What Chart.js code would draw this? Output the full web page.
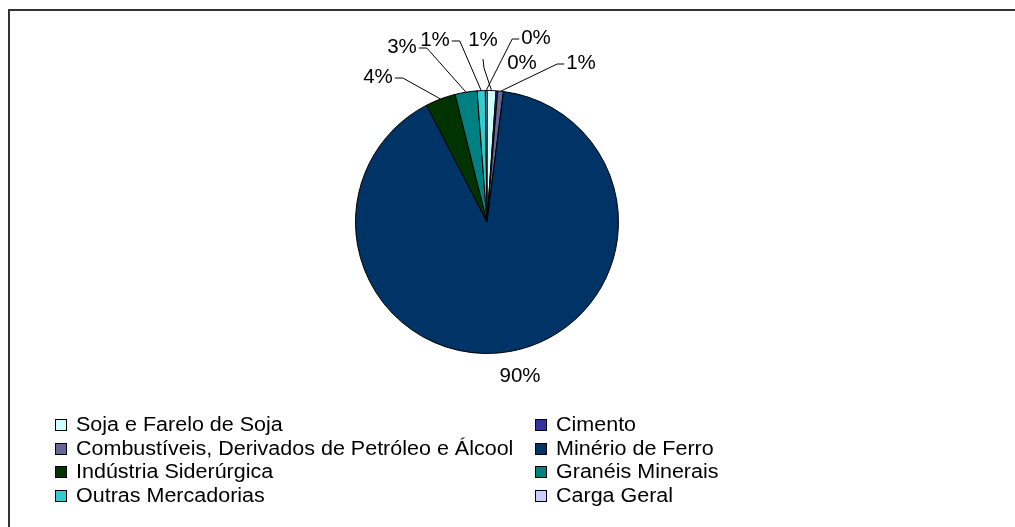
<!DOCTYPE html>
<html>
<head>
<meta charset="utf-8">
<script src="https://cdn.jsdelivr.net/npm/chart.js@4.4.1/dist/chart.umd.min.js"></script>
<style>
    body { margin: 0; background: #fff; width: 1015px; height: 527px; overflow: hidden; position: relative;
           font-family: "Liberation Sans", Arial, sans-serif; }
    #frame { position: absolute; left: 8px; top: 9px; width: 1100px; height: 600px;
             border-left: 2px solid #333; border-top: 2px solid #333; }
    #pie { position: absolute; left: 0; top: 0; }
    #legend { position: absolute; left: 55px; top: 413px; display: grid;
              grid-template-columns: 480px 300px; font-size: 20px; line-height: 23.7px; color: #000; }
    .item { white-space: nowrap; display: flex; align-items: center; }
    .box { width: 10px; height: 10px; border: 1px solid #000; margin-right: 9px; flex: none; }
    .txt { display: inline-block; transform: scaleX(1.075); transform-origin: left center; }
</style>
</head>
<body>
<div id="frame"></div>
<canvas id="pie" width="1015" height="527"></canvas>
<div id="legend"></div>
<script>
// categories, in the order the slices go round (clockwise from 12 o'clock)
const categories = [
    'Soja e Farelo de Soja',
    'Cimento',
    'Combustíveis, Derivados de Petróleo e Álcool',
    'Minério de Ferro',
    'Indústria Siderúrgica',
    'Granéis Minerais',
    'Outras Mercadorias',
    'Carga Geral'
];
// share of each category (%)
const shares = [1.1, 0.2, 0.7, 90.4, 3.7, 2.7, 1.0, 0.2];

const sliceColors = ['#CCFFFF', '#333399', '#666699', '#003366', '#003300', '#008080', '#33CCCC', '#CCCCFF'];

// where each percent label sits, relative to the pie centre, and which way its leader line leaves
const labelPlace = [
    { dx: -4, dy: -182, lead: 'b' },
    { dx: 35, dy: -159, lead: null },
    { dx: 94, dy: -159, lead: 'l' },
    { dx: 33, dy: 154, lead: null },
    { dx: -109, dy: -145, lead: 'r' },
    { dx: -85, dy: -175, lead: 'r' },
    { dx: -52, dy: -182, lead: 'r' },
    { dx: 49, dy: -184, lead: 'l' }
];

const pctLabels = {
    id: 'pctLabels',
    afterDatasetsDraw(chart) {
        const ctx = chart.ctx;
        const meta = chart.getDatasetMeta(0);
        const total = shares.reduce((a, b) => a + b, 0);
        ctx.save();
        ctx.font = '20.5px "Liberation Sans", Arial, sans-serif';
        ctx.fillStyle = '#000';
        ctx.strokeStyle = '#000';
        ctx.lineWidth = 1;
        ctx.textAlign = 'center';
        ctx.textBaseline = 'middle';
        meta.data.forEach((arc, i) => {
            const { x, y, startAngle, endAngle, outerRadius } =
                arc.getProps(['x', 'y', 'startAngle', 'endAngle', 'outerRadius'], true);
            const mid = (startAngle + endAngle) / 2;
            const ex = x + Math.cos(mid) * outerRadius;
            const ey = y + Math.sin(mid) * outerRadius;
            const p = labelPlace[i];
            const lx = x + p.dx, ly = y + p.dy;
            const text = Math.round(shares[i] / total * 100) + '%';
            ctx.fillText(text, lx, ly);
            const w = ctx.measureText(text).width;
            if (!p.lead) return;
            ctx.beginPath();
            if (p.lead === 'r') {
                ctx.moveTo(lx + w / 2 + 2, ly + 1);
                ctx.lineTo(lx + w / 2 + 10, ly + 1);
            } else if (p.lead === 'l') {
                ctx.moveTo(lx - w / 2 - 2, ly + 1);
                ctx.lineTo(lx - w / 2 - 9, ly + 1);
            } else {
                ctx.moveTo(lx, ly + 19);
                ctx.lineTo(lx + 1, ly + 28);
            }
            ctx.lineTo(ex, ey);
            ctx.stroke();
        });
        ctx.restore();
    }
};

const pieChart = new Chart(document.getElementById('pie'), {
    type: 'pie',
    data: {
        labels: categories,
        datasets: [{
            data: shares,
            backgroundColor: sliceColors,
            borderColor: '#000',
            borderWidth: 1
        }]
    },
    options: {
        responsive: false,
        animation: false,
        layout: { padding: { left: 355, right: 396, top: 89, bottom: 172 } },
        plugins: {
            legend: { display: false },
            tooltip: { enabled: false }
        }
    },
    plugins: [pctLabels]
});

// legend in two columns, built from the chart's own labels and colours
const legendEl = document.getElementById('legend');
pieChart.data.labels.forEach((label, i) => {
    const item = document.createElement('div');
    item.className = 'item';
    const box = document.createElement('span');
    box.className = 'box';
    box.style.background = sliceColors[i];
    const txt = document.createElement('span');
    txt.className = 'txt';
    txt.textContent = label;
    item.appendChild(box);
    item.appendChild(txt);
    legendEl.appendChild(item);
});
</script>
</body>
</html>
